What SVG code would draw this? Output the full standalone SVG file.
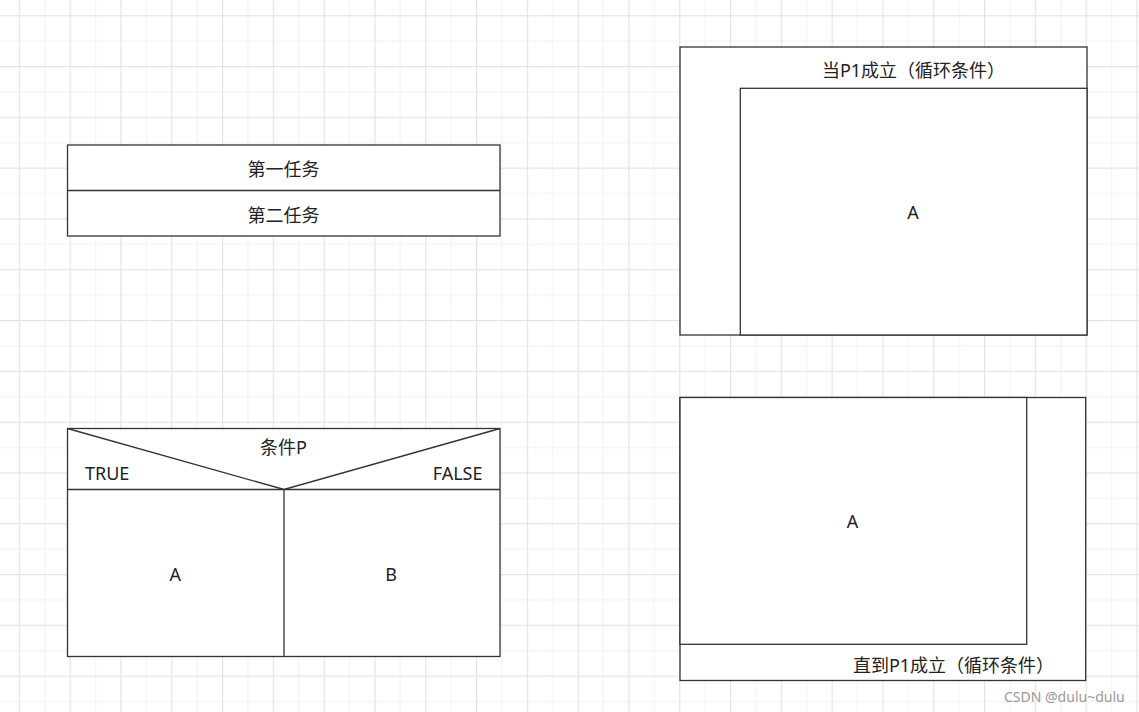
<svg xmlns="http://www.w3.org/2000/svg" width="1139" height="712" viewBox="0 0 1139 712">
<defs>
<pattern id="grid" patternUnits="userSpaceOnUse" x="18.8" y="15.2" width="50.8" height="50.8">
<rect x="25.4" y="0" width="1" height="50.8" fill="#f1f1f1"/>
<rect x="0" y="25.4" width="50.8" height="1" fill="#f1f1f1"/>
<rect x="0" y="0" width="1.2" height="50.8" fill="#e3e3e3"/>
<rect x="0" y="0" width="50.8" height="1.2" fill="#e3e3e3"/>
</pattern>
<style>
.box{fill:#ffffff;stroke:#333333;stroke-width:1.3}
.ln{fill:none;stroke:#333333;stroke-width:1.3}
.t{font-family:"Noto Sans","Noto Sans CJK SC",sans-serif;font-size:18px;fill:#222222}
.m{text-anchor:middle}
.wm{font-family:"Noto Sans","Liberation Sans",sans-serif;font-size:14px;fill:#9a9a9a}
</style>
</defs>
<rect width="1139" height="712" fill="#ffffff"/>
<rect width="1139" height="712" fill="url(#grid)"/>

<g id="sequence">
<rect class="box" x="67.5" y="145" width="432.5" height="91"/>
<line class="ln" x1="67.5" y1="190.5" x2="500" y2="190.5"/>
<text class="t m" x="283.5" y="175.5">第一任务</text>
<text class="t m" x="283.5" y="221.5">第二任务</text>
</g>

<g id="selection">
<rect class="box" x="67.5" y="428.5" width="432.5" height="228"/>
<line class="ln" x1="67.5" y1="489.5" x2="500" y2="489.5"/>
<polyline class="ln" points="67.5,428.5 284,489.5 500,428.5"/>
<line class="ln" x1="284" y1="489.5" x2="284" y2="656.5"/>
<text class="t m" x="283.5" y="453.5">条件P</text>
<text class="t" x="85" y="480">TRUE</text>
<text class="t" x="482.5" y="480" text-anchor="end">FALSE</text>
<text class="t m" x="175.2" y="581">A</text>
<text class="t m" x="391" y="581">B</text>
</g>

<g id="while-loop">
<rect class="box" x="680" y="47" width="407" height="288"/>
<rect class="box" x="740.3" y="88.3" width="346.7" height="246.7"/>
<text class="t m" x="913.5" y="76.5">当P1成立（循环条件）</text>
<text class="t m" x="913" y="218.5">A</text>
</g>

<g id="until-loop">
<rect class="box" x="680" y="397.5" width="405.7" height="283"/>
<rect class="box" x="680" y="397.5" width="346.7" height="246.8"/>
<text class="t m" x="953.5" y="671.5">直到P1成立（循环条件）</text>
<text class="t m" x="852.5" y="527.5">A</text>
</g>

<g id="connectors"></g>

<text class="wm" x="1004" y="701.5">CSDN @dulu~dulu</text>
</svg>
